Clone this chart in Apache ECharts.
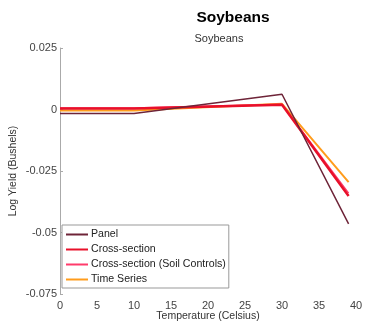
<!DOCTYPE html>
<html>
<head>
<meta charset="utf-8">
<script src="https://cdn.jsdelivr.net/npm/echarts@6/dist/echarts.min.js"></script>
<style>
  html, body { margin: 0; padding: 0; background: #fff; }
  #chart { width: 366px; height: 323px; }
</style>
</head>
<body>
<div id="chart"></div>
<script>
const temps = [0, 10, 30, 39];
const panel = [-0.0016, -0.0016, 0.0062, -0.0465];
const crossSection = [0.0004, 0.0004, 0.0019, -0.0352];
const crossSectionSoil = [0.0006, 0.0006, 0.0021, -0.0340];
const timeSeries = [-0.0004, -0.0004, 0.0023, -0.0295];

const xTicks = [0, 5, 10, 15, 20, 25, 30, 35, 40];
const yTicks = [-0.075, -0.05, -0.025, 0, 0.025];

const chart = echarts.init(document.getElementById('chart'));

const pair = arr => temps.map((t, i) => [t, arr[i]]);
const font = 'Liberation Sans, Arial, sans-serif';

function line(name, data, color, width, z) {
  return {
    name, type: 'line', data: pair(data),
    showSymbol: false, symbol: 'none', z,
    lineStyle: { color, width },
    itemStyle: { color },
    animation: false
  };
}

chart.setOption({
  title: [
    {
      text: 'Soybeans', left: 228, top: 5, textAlign: 'center',
      textStyle: { fontFamily: font, fontSize: 15.5, fontWeight: 'bold', color: '#000' }
    },
    {
      text: 'Soybeans', left: 214, top: 28, textAlign: 'center',
      textStyle: { fontFamily: font, fontSize: 11, fontWeight: 'normal', color: '#333' }
    }
  ],
  legend: {
    orient: 'vertical', left: 62, top: 225,
    backgroundColor: '#fff', borderColor: '#999', borderWidth: 1,
    padding: [4, 3, 3, 4], itemGap: 4,
    icon: 'rect', itemWidth: 22, itemHeight: 2,
    textStyle: { fontFamily: font, fontSize: 10.6, color: '#222', padding: [0, 0, 0, -2] },
    data: ['Panel', 'Cross-section', 'Cross-section (Soil Controls)', 'Time Series']
  },
  grid: { left: 60, right: 10, top: 48, bottom: 29, outerBoundsMode: 'none' },
  xAxis: {
    type: 'value', min: 0, max: 40, interval: 5,
    name: 'Temperature (Celsius)', nameLocation: 'middle', nameGap: 17,
    nameMoveOverlap: false,
    nameTextStyle: { fontFamily: font, fontSize: 10.5, color: '#333' },
    axisLine: { show: false },
    axisTick: { show: false },
    axisLabel: { fontFamily: font, fontSize: 11, color: '#444', margin: 6,
      formatter: v => xTicks.includes(v) ? String(v) : '' },
    splitLine: { show: false }
  },
  yAxis: {
    type: 'value', min: -0.075, max: 0.025, interval: 0.025,
    name: 'Log Yield (Bushels)', nameLocation: 'middle', nameGap: 41,
    nameMoveOverlap: false,
    nameTextStyle: { fontFamily: font, fontSize: 10.5, color: '#333' },
    axisLine: { show: true, lineStyle: { color: '#aaa', width: 1 } },
    axisTick: { show: true, inside: true, length: 3, lineStyle: { color: '#aaa' } },
    axisLabel: { fontFamily: font, fontSize: 11, color: '#444', margin: 3,
      formatter: v => {
        const t = yTicks.find(k => Math.abs(k - v) < 1e-9);
        return t === undefined ? '' : (t === 0 ? '0' : String(t));
      } },
    splitLine: { show: false }
  },
  series: [
    line('Panel', panel, '#6e2438', 1.5, 4),
    line('Cross-section', crossSection, '#e8102a', 2.5, 3),
    line('Cross-section (Soil Controls)', crossSectionSoil, '#ff3b6b', 1.5, 2),
    line('Time Series', timeSeries, '#ff9c1c', 2, 1)
  ]
});
</script>
</body>
</html>
